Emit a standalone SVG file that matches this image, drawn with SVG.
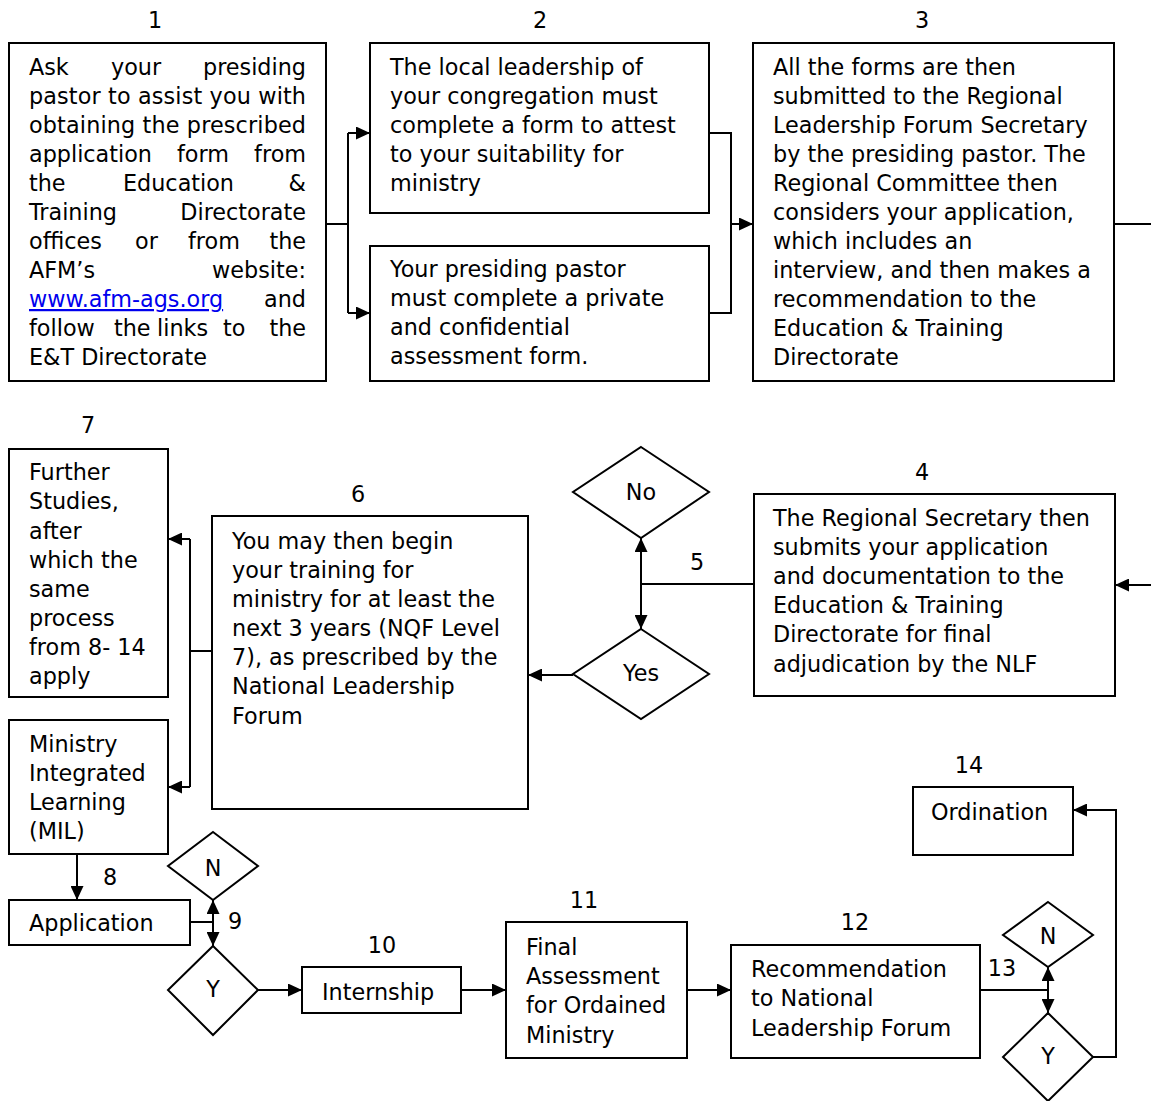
<svg xmlns="http://www.w3.org/2000/svg" width="1151" height="1101" viewBox="0 0 1151 1101">
<style>
text{font-family:"DejaVu Sans",Verdana,sans-serif;font-size:22.3px;fill:#000}
.box{fill:#fff;stroke:#000;stroke-width:2}
.c{text-anchor:middle}
.e{text-anchor:end}
.con path{fill:none;stroke:#000;stroke-width:2}
.link{fill:#0000ee;text-decoration:underline}
</style>
<defs>
<marker id="ah" markerUnits="userSpaceOnUse" markerWidth="14" markerHeight="13" refX="14" refY="6.5" orient="auto">
<path d="M0,0 L14,6.5 L0,13 z" fill="#000"/>
</marker>
</defs>
<rect width="1151" height="1101" fill="#fff"/>

<g id="n1">
<text class="c" x="155" y="28">1</text>
<rect class="box" x="9" y="43" width="317" height="338"/>
<text x="29" y="75">Ask</text><text x="111" y="75">your</text><text class="e" x="306" y="75">presiding</text>
<text x="29" y="104" textLength="277">pastor to assist you with</text>
<text x="29" y="133" textLength="277">obtaining the prescribed</text>
<text x="29" y="162">application</text><text x="177" y="162">form</text><text class="e" x="306" y="162">from</text>
<text x="29" y="191">the</text><text x="123" y="191">Education</text><text class="e" x="306" y="191">&amp;</text>
<text x="29" y="220">Training</text><text class="e" x="306" y="220">Directorate</text>
<text x="29" y="249">offices</text><text x="135" y="249">or</text><text x="188" y="249">from</text><text class="e" x="306" y="249">the</text>
<text x="29" y="278">AFM’s</text><text class="e" x="306" y="278">website:</text>
<text class="link" x="29" y="307">www.afm-ags.org</text><text class="e" x="306" y="307">and</text>
<text x="29" y="336">follow</text><text x="114" y="336">the</text><text x="157" y="336">links</text><text x="223" y="336">to</text><text class="e" x="306" y="336">the</text>
<text x="29" y="365">E&amp;T Directorate</text>
</g>

<g id="n2a">
<text class="c" x="540" y="28">2</text>
<rect class="box" x="370" y="43" width="339" height="170"/>
<text x="390" y="75">The local leadership of</text>
<text x="390" y="104">your congregation must</text>
<text x="390" y="133">complete a form to attest</text>
<text x="390" y="162">to your suitability for</text>
<text x="390" y="191">ministry</text>
</g>

<g id="n2b">
<rect class="box" x="370" y="246" width="339" height="135"/>
<text x="390" y="277">Your presiding pastor</text>
<text x="390" y="306">must complete a private</text>
<text x="390" y="335">and confidential</text>
<text x="390" y="364">assessment form.</text>
</g>

<g id="n3">
<text class="c" x="922" y="28">3</text>
<rect class="box" x="753" y="43" width="361" height="338"/>
<text x="773" y="75">All the forms are then</text>
<text x="773" y="104">submitted to the Regional</text>
<text x="773" y="133">Leadership Forum Secretary</text>
<text x="773" y="162">by the presiding pastor. The</text>
<text x="773" y="191">Regional Committee then</text>
<text x="773" y="220">considers your application,</text>
<text x="773" y="249">which includes an</text>
<text x="773" y="278">interview, and then makes a</text>
<text x="773" y="307">recommendation to the</text>
<text x="773" y="336">Education &amp; Training</text>
<text x="773" y="365">Directorate</text>
</g>

<g id="n4">
<text class="c" x="922" y="480">4</text>
<rect class="box" x="754" y="494" width="361" height="202"/>
<text x="773" y="526">The Regional Secretary then</text>
<text x="773" y="555">submits your application</text>
<text x="773" y="584">and documentation to the</text>
<text x="773" y="613">Education &amp; Training</text>
<text x="773" y="642">Directorate for final</text>
<text x="773" y="672">adjudication by the NLF</text>
</g>

<g id="n5">
<text class="c" x="697" y="570">5</text>
<polygon class="box" points="641,447 709,492 641,538 573,492"/>
<text class="c" x="641" y="500">No</text>
<polygon class="box" points="641,629 709,674 641,719 573,674"/>
<text class="c" x="641" y="681">Yes</text>
</g>

<g id="n6">
<text class="c" x="358" y="502">6</text>
<rect class="box" x="212" y="516" width="316" height="293"/>
<text x="232" y="549">You may then begin</text>
<text x="232" y="578">your training for</text>
<text x="232" y="607">ministry for at least the</text>
<text x="232" y="636">next 3 years (NQF Level</text>
<text x="232" y="665">7), as prescribed by the</text>
<text x="232" y="694">National Leadership</text>
<text x="232" y="724">Forum</text>
</g>

<g id="n7a">
<text class="c" x="88" y="433">7</text>
<rect class="box" x="9" y="449" width="159" height="248"/>
<text x="29" y="480">Further</text>
<text x="29" y="509">Studies,</text>
<text x="29" y="539">after</text>
<text x="29" y="568">which the</text>
<text x="29" y="597">same</text>
<text x="29" y="626">process</text>
<text x="29" y="655">from 8- 14</text>
<text x="29" y="684">apply</text>
</g>

<g id="n7b">
<rect class="box" x="9" y="720" width="159" height="134"/>
<text x="29" y="752">Ministry</text>
<text x="29" y="781">Integrated</text>
<text x="29" y="810">Learning</text>
<text x="29" y="839">(MIL)</text>
</g>

<g id="n8">
<text class="c" x="110" y="885">8</text>
<rect class="box" x="9" y="900" width="181" height="45"/>
<text x="29" y="931">Application</text>
</g>

<g id="n9">
<text class="c" x="235" y="929">9</text>
<polygon class="box" points="213,832 258,866 213,900 168,866"/>
<text class="c" x="213" y="876">N</text>
<polygon class="box" points="213,946 258,990 213,1035 168,990"/>
<text class="c" x="213" y="997">Y</text>
</g>

<g id="n10">
<text class="c" x="382" y="953">10</text>
<rect class="box" x="302" y="967" width="159" height="46"/>
<text x="322" y="1000">Internship</text>
</g>

<g id="n11">
<text class="c" x="584" y="908">11</text>
<rect class="box" x="506" y="922" width="181" height="136"/>
<text x="526" y="955">Final</text>
<text x="526" y="984">Assessment</text>
<text x="526" y="1013">for Ordained</text>
<text x="526" y="1043">Ministry</text>
</g>

<g id="n12">
<text class="c" x="855" y="930">12</text>
<rect class="box" x="731" y="945" width="249" height="113"/>
<text x="751" y="977">Recommendation</text>
<text x="751" y="1006">to National</text>
<text x="751" y="1036">Leadership Forum</text>
</g>

<g id="n13">
<text class="c" x="1002" y="976">13</text>
<polygon class="box" points="1048,902 1093,935 1048,967 1003,935"/>
<text class="c" x="1048" y="944">N</text>
<polygon class="box" points="1048,1013 1093,1057 1048,1101 1003,1057"/>
<text class="c" x="1048" y="1064">Y</text>
</g>

<g id="n14">
<text class="c" x="969" y="773">14</text>
<rect class="box" x="913" y="787" width="160" height="68"/>
<text x="931" y="820">Ordination</text>
</g>

<g id="connectors" class="con">
<path d="M326,224 H348"/>
<path d="M348,133 V313"/>
<path d="M348,133 H370" marker-end="url(#ah)"/>
<path d="M348,313 H370" marker-end="url(#ah)"/>
<path d="M709,133 H731 V313 H709"/>
<path d="M731,224 H753" marker-end="url(#ah)"/>
<path d="M1114,224 H1153"/>
<path d="M1153,585 H1115" marker-end="url(#ah)"/>
<path d="M754,584 H641"/>
<path d="M641,584 V538" marker-end="url(#ah)"/>
<path d="M641,584 V629" marker-end="url(#ah)"/>
<path d="M573,675 H528" marker-end="url(#ah)"/>
<path d="M212,651 H190"/>
<path d="M190,539 V787"/>
<path d="M190,539 H168" marker-end="url(#ah)"/>
<path d="M190,787 H168" marker-end="url(#ah)"/>
<path d="M77,854 V900" marker-end="url(#ah)"/>
<path d="M190,922 H213"/>
<path d="M213,922 V900" marker-end="url(#ah)"/>
<path d="M213,922 V946" marker-end="url(#ah)"/>
<path d="M258,990 H302" marker-end="url(#ah)"/>
<path d="M461,990 H506" marker-end="url(#ah)"/>
<path d="M687,990 H731" marker-end="url(#ah)"/>
<path d="M980,990 H1048"/>
<path d="M1048,990 V967" marker-end="url(#ah)"/>
<path d="M1048,990 V1013" marker-end="url(#ah)"/>
<path d="M1093,1057 H1116 V810 H1073" marker-end="url(#ah)"/>
</g>
</svg>
